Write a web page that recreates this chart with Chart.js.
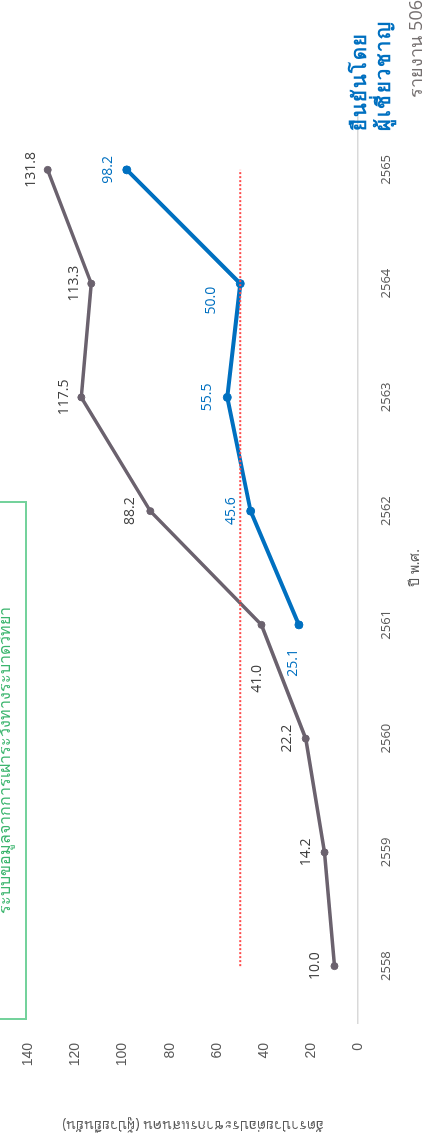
<!DOCTYPE html>
<html>
<head>
<meta charset="utf-8">
<script src="https://cdn.jsdelivr.net/npm/chart.js@4.4.1/dist/chart.umd.min.js"></script>
<style>
html, body { margin: 0; padding: 0; background: #fff; overflow: hidden; }
/* the chart is laid out landscape, then turned a quarter left */
#page {
    position: absolute; left: 0; top: 0;
    width: 1143px; height: 429px;
    transform-origin: 0 0;
    transform: translate(0, 1143px) rotate(-90deg);
    background: #fff; overflow: hidden;
    font-family: "Open Sans", "Noto Sans", sans-serif;
}
#chart { position: absolute; left: 0; top: 0; }
#note {
    position: absolute; left: 123px; top: -22px; width: 519px; height: 49px;
    border: 2px solid #74d29c; color: #3cb56e; font-size: 16px; text-align: center;
    box-sizing: border-box; padding: 12px 0 0 0; line-height: 24px; white-space: nowrap;
}
#expert {
    position: absolute; left: 1012px; top: 347px; color: #0070c0;
    font-weight: bold; font-size: 20px; line-height: 24px; letter-spacing: 1.5px; white-space: nowrap;
}
#source {
    position: absolute; right: 0; top: 401px; color: #767171; font-size: 18px; white-space: nowrap;
}
</style>
</head>
<body>
<div id="page">
    <canvas id="chart" width="1143" height="429"></canvas>
    <div id="note">ระบบข้อมูลจากการเฝ้าระวังทางระบาดวิทยา</div>
    <div id="expert">ยืนยันโดย<br>ผู้เชี่ยวชาญ</div>
    <div id="source">รายงาน 506</div>
</div>
<script>
// data
const years = ['2558', '2559', '2560', '2561', '2562', '2563', '2564', '2565'];
const reportRate = [10.0, 14.2, 22.2, 41.0, 88.2, 117.5, 113.3, 131.8];
const confirmedRate = [null, null, null, 25.1, 45.6, 55.5, 50.0, 98.2];
const targetRate = [50, 50, 50, 50, 50, 50, 50, 50];
const yTicks = [0, 20, 40, 60, 80, 100, 120, 140];

// label shifts [dx, dy] from each point, px
const reportShift = [[0, -19], [0, -19], [0, -19], [-54, -4], [0, -20], [0, -17], [0, -17], [0, -17]];
const confirmedShift = [null, null, null, [-38, -6], [0, -20], [0, -20], [-17, -29], [0, -19]];

const valueLabels = {
    id: 'valueLabels',
    afterDatasetsDraw(chart) {
        const ctx = chart.ctx;
        chart.data.datasets.forEach((ds, i) => {
            if (!ds.labelShift) return;
            const meta = chart.getDatasetMeta(i);
            meta.data.forEach((pt, j) => {
                const v = ds.data[j];
                if (v == null) return;
                const s = ds.labelShift[j];
                ctx.save();
                ctx.font = '14px "Open Sans"';
                ctx.fillStyle = ds.labelColor;
                ctx.textAlign = 'center';
                ctx.textBaseline = 'middle';
                ctx.fillText(v.toFixed(1), pt.x + s[0], pt.y + s[1]);
                ctx.restore();
            });
        });
    }
};

new Chart(document.querySelector('#chart'), {
    type: 'line',
    data: {
        labels: years,
        datasets: [
            {
                data: targetRate,
                borderColor: '#ff4b4b',
                borderWidth: 2,
                borderDash: [2, 2],
                pointRadius: 0
            },
            {
                data: confirmedRate,
                borderColor: '#0070c0',
                backgroundColor: '#0070c0',
                borderWidth: 4,
                pointRadius: 4,
                pointBorderWidth: 1,
                labelColor: '#0070c0',
                labelShift: confirmedShift
            },
            {
                data: reportRate,
                borderColor: '#6b626e',
                backgroundColor: '#6b626e',
                borderWidth: 3.5,
                pointRadius: 3.5,
                pointBorderWidth: 1,
                labelColor: '#404040',
                labelShift: reportShift
            }
        ]
    },
    options: {
        responsive: false,
        animation: false,
        devicePixelRatio: 1,
        layout: { padding: { left: 0, right: 113, top: 18, bottom: 0 } },
        plugins: {
            legend: { display: false },
            tooltip: { enabled: false }
        },
        scales: {
            x: {
                offset: true,
                grid: { display: false, drawTicks: false },
                border: { display: true, color: '#d9d9d9', width: 1.5 },
                ticks: {
                    padding: 20,
                    color: '#595959',
                    font: { family: 'Open Sans', size: 13 }
                },
                title: {
                    display: true,
                    text: 'ปี พ.ศ.',
                    color: '#595959',
                    font: { family: 'Open Sans', size: 14 },
                    padding: { top: 0, bottom: 6 }
                },
                afterFit: (scale) => { scale.height = 71; }
            },
            y: {
                min: 0,
                max: 140,
                grid: { display: false, drawTicks: false },
                border: { display: false },
                afterBuildTicks: (scale) => { scale.ticks = yTicks.map(v => ({ value: v })); },
                ticks: {
                    padding: 20,
                    color: '#595959',
                    font: { family: 'Liberation Sans', size: 14 }
                },
                title: {
                    display: true,
                    text: 'อัตราป่วยต่อประชากรแสนคน (ผู้ป่วยยืนยัน)',
                    color: '#595959',
                    font: { family: 'Open Sans', size: 14 },
                    padding: { top: 10, bottom: 0 }
                },
                afterFit: (scale) => { scale.width = 120; }
            }
        }
    },
    plugins: [valueLabels]
});
</script>
</body>
</html>
